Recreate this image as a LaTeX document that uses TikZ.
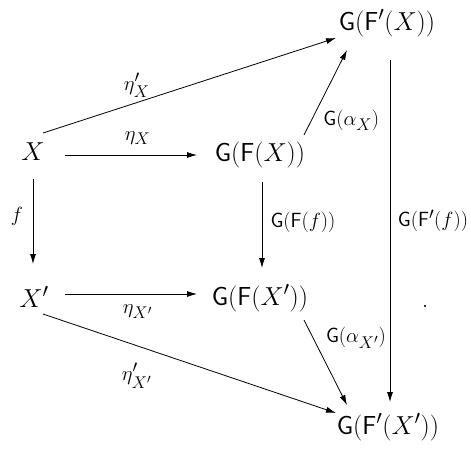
\RequirePackage{fix-cm}
\documentclass[tikz,border=0pt]{standalone}
\usepackage{amsmath}
\usetikzlibrary{arrows.meta}
\DeclareMathSizes{26}{26}{20}{15}
\DeclareMathSizes{20.5}{20.5}{17}{13}
\newcommand{\Gf}{\mathsf{G}}
\newcommand{\Ff}{\mathsf{F}}
\tikzset{
  obj/.style={font=\fontsize{26}{30}\selectfont, inner sep=0pt},
  lab/.style={font=\fontsize{20.5}{24}\selectfont, inner sep=0pt},
  arr/.style={-{Latex[length=10pt,width=6pt]}, line width=0.8pt}
}
\begin{document}
\begin{tikzpicture}[x=1pt, y=-1pt]
\useasboundingbox (0,0) rectangle (471,449);
% objects
\node[obj] (X) at (33,152) {$X$};
\node[obj] (GFX) at (260,155) {$\Gf(\Ff(X))$};
\node[obj] (GFpX) at (387,23) {$\Gf(\Ff'(X))$};
\node[obj] (Xp) at (34,297) {$X'$};
\node[obj] (GFXp) at (260,298) {$\Gf(\Ff(X'))$};
\node[obj] (GFpXp) at (388,427) {$\Gf(\Ff'(X'))$};
\node[obj, anchor=base] (dot) at (425,307) {.};
% horizontal arrows
\draw[arr] ([shift={(32,3)}]X.center) -- node[lab, pos=0.55, shift={(0,-17)}] {$\eta_X$} ([shift={(-63,0)}]GFX.center);
\draw[arr] ([shift={(31,-3)}]Xp.center) -- node[lab, pos=0.55, shift={(0,18)}] {$\eta_{X'}$} ([shift={(-63,-4)}]GFXp.center);
% vertical arrows
\draw[arr] ([shift={(0,27)}]X.center) -- node[lab, pos=0.44, shift={(-16,0)}] {$f$} ([shift={(-1,-33)}]Xp.center);
\draw[arr] ([shift={(2,27)}]GFX.center) -- node[lab, pos=0.47, shift={(41,0)}] {$\Gf(\Ff(f))$} ([shift={(2,-30)}]GFXp.center);
\draw[arr] ([shift={(3,37)}]GFpX.center) -- node[lab, pos=0.47, shift={(43,0)}] {$\Gf(\Ff'(f))$} ([shift={(2,-25)}]GFpXp.center);
% diagonal arrows
\draw[arr] ([shift={(10,-19)}]X.center) -- node[lab, pos=0.32, shift={(0,-17)}] {$\eta'_X$} ([shift={(-51,15)}]GFpX.center);
\draw[arr] ([shift={(44,-20)}]GFX.center) -- node[lab, pos=0.17, shift={(40,0)}] {$\Gf(\alpha_X)$} ([shift={(-40,27)}]GFpX.center);
\draw[arr] ([shift={(9,17)}]Xp.center) -- node[lab, pos=0.32, shift={(0,30)}] {$\eta'_{X'}$} ([shift={(-52,-14)}]GFpXp.center);
\draw[arr] ([shift={(44,22)}]GFXp.center) -- node[lab, pos=0.21, shift={(43,0)}] {$\Gf(\alpha_{X'})$} ([shift={(-41,-22)}]GFpXp.center);
\end{tikzpicture}
\end{document}
